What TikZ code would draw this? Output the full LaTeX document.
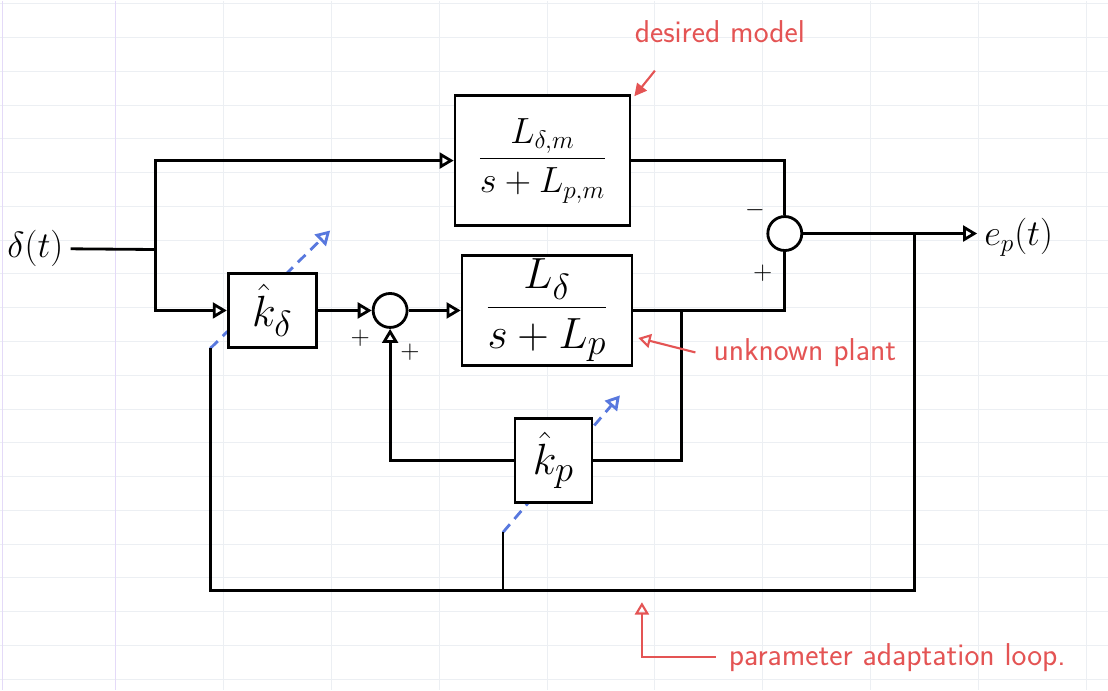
\documentclass[tikz,border=0pt]{standalone}
\usepackage{amsmath,amssymb}
\usetikzlibrary{arrows.meta,calc,positioning}

\definecolor{inkred}{RGB}{228,84,84}
\definecolor{inkblue}{RGB}{88,120,222}
\definecolor{paperrule}{RGB}{236,239,243}
\definecolor{papermargin}{RGB}{228,218,248}

\begin{document}
\begin{tikzpicture}[
  line width=1.6pt,
  blk/.style={draw=black, line width=1.6pt, fill=white, inner sep=2pt, font=\Huge},
  sumn/.style={draw=black, line width=1.6pt, circle, fill=white, inner sep=0pt, minimum size=0.68cm},
  arr/.style={-{Triangle[open,length=8pt,width=9pt]}, line width=1.6pt},
  sgn/.style={font=\Large, inner sep=1pt},
  note/.style={text=inkred, font=\fontsize{18}{21}\selectfont\sffamily, inner sep=1pt},
  notearr/.style={-{Triangle[open,length=7pt,width=8pt]}, draw=inkred, line width=1.2pt},
  adapt/.style={-{Triangle[open,length=8pt,width=9pt]}, draw=inkblue, line width=1.6pt,
                dash pattern=on 6pt off 4pt},
  gridln/.style={draw=paperrule, line width=0.5pt},
]
% ---- graph paper ----
\fill[white] (0,0) rectangle (22.16,-13.8);
\foreach \k in {0,...,20}
  \draw[gridln] (0,{-(3+33.8*\k)/50}) -- (22.16,{-(3+33.8*\k)/50});
\foreach \k in {0,...,8}
  \draw[gridln] ({4.46+2.16*\k},0) -- ({4.46+2.16*\k},-13.8);
\draw[draw=papermargin, line width=0.8pt] (0.04,0) -- (0.04,-13.8);
\draw[draw=papermargin, line width=0.8pt] (2.3,0) -- (2.3,-13.8);
\useasboundingbox (0,0) rectangle (22.16,-13.8);

% ---- adaptation arrows (under the gain blocks) ----
\coordinate (loopL) at (4.2,-6.96);
\coordinate (ksTip) at (6.6,-4.6);
\coordinate (kpFoot) at (10.06,-10.64);
\coordinate (kpTip) at (12.4,-7.9);
\draw[adapt] (loopL) -- (ksTip);
\draw[adapt] (kpFoot) -- (kpTip);

% ---- blocks ----
\node[font=\huge] (din) at (0.7,-4.96) {$\delta(t)$};
\coordinate (br) at (3.1,-4.98);
\node[blk, font=\huge, minimum width=3.5cm, minimum height=2.6cm] (model) at (10.85,-3.2)
  {$\dfrac{L_{\delta,m}}{s+L_{p,m}}$};
\node[blk, minimum width=1.76cm, minimum height=1.48cm] (ks) at (5.44,-6.2) {$\hat{k}_\delta$};
\node[sumn] (s2) at (7.8,-6.2) {};
\node[blk, minimum width=3.4cm, minimum height=2.06cm] (plant) at (10.94,-6.2)
  {$\dfrac{L_\delta}{s+L_p}$};
\node[sumn] (s1) at (15.7,-4.66) {};
\node[blk, minimum width=1.54cm, minimum height=1.68cm] (kp) at (11.07,-9.2) {$\hat{k}_p$};
\node[font=\huge, anchor=west] (ep) at (19.55,-4.74) {$e_p(t)$};

% signs
\node[sgn] (m1) at (15.1,-4.2) {$-$};
\node[sgn] (p1) at (15.26,-5.46) {$+$};
\node[sgn] (p2) at (7.2,-6.76) {$+$};
\node[sgn] (p3) at (8.2,-7.04) {$+$};

% ---- signal paths ----
\draw (din) -- (br);
\draw[arr] (br) |- (model.west);
\draw[arr] (br) |- (ks.west);
\draw[arr] (ks) -- (s2);
\draw[arr] (s2) -- (plant);
\draw (model.east) -| (s1.north);
\draw (plant.east) -| (s1.south);
\draw[arr] (s1.east) -- (s1.east -| ep.west);

% inner feedback through k_p
\coordinate[right=0.96cm of plant.east] (fb);
\draw (fb) |- (kp.east);
\draw[arr] (kp.west) -| (s2.south);

% parameter adaptation loop
\coordinate (eb) at (18.3,-4.66);
\coordinate (loopB) at (4.2,-11.8);
\draw (eb) |- (loopB) -- (loopL);
\draw (kpFoot) -- (kpFoot |- loopB);

% ---- notes ----
\node[note] (nmodel) at (14.4,-0.62) {desired model};
\coordinate (nmodelT) at (13.1,-1.4);
\draw[notearr, -{Triangle[length=7pt,width=7pt]}] (nmodelT) -- ($(model.north east)+(0.06,-0.04)$);
\node[note] (nplant) at (16.1,-7.04) {unknown plant};
\draw[notearr] ([xshift=-0.3cm]nplant.west) -- ($(plant.east)+(0.1,-0.55)$);
\node[note] (nloop) at (17.95,-13.14) {parameter adaptation loop.};
\draw[notearr] ([xshift=-0.2cm]nloop.west) -| ($(loopB)+(8.64,-0.24)$);
\end{tikzpicture}
\end{document}
